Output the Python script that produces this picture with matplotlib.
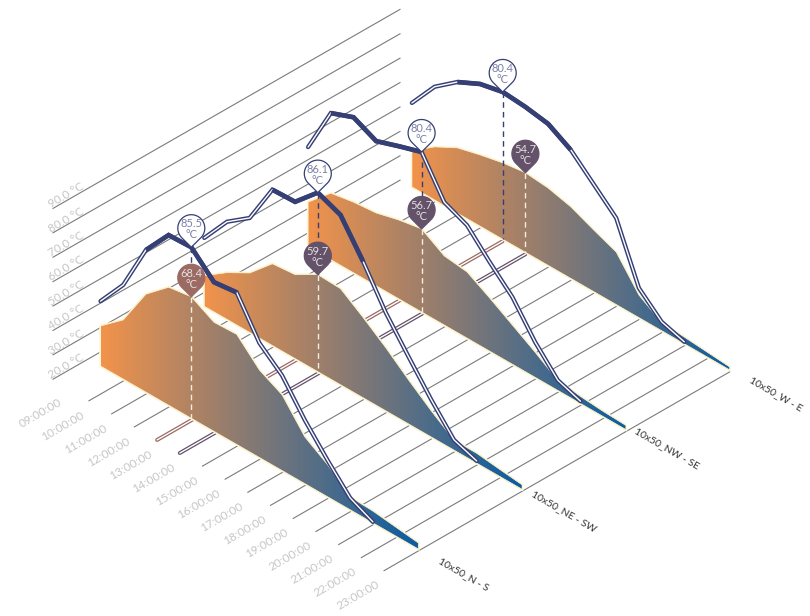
import matplotlib
matplotlib.use('Agg')
import matplotlib.pyplot as plt
from matplotlib.patches import Polygon
from matplotlib.colors import LinearSegmentedColormap
import numpy as np

plt.rcParams['font.family'] = ['Lato', 'DejaVu Sans']

hours = ['09:00:00', '10:00:00', '11:00:00', '12:00:00', '13:00:00', '14:00:00', '15:00:00', '16:00:00',
         '17:00:00', '18:00:00', '19:00:00', '20:00:00', '21:00:00', '22:00:00', '23:00:00']
series_names = ['10x50_N - S', '10x50_NE - SW', '10x50_NW - SE', '10x50_W - E']
temp_ticks = [20, 30, 40, 50, 60, 70, 80, 90]

# area = lower temperature, line = upper temperature
area_n_s = [42.8, 48.8, 61.0, 67.3, 68.4, 64.5, 64.8, 57.7, 54.0, 44.9, 40.3, 34.2, 33.9, 33.0, 32.1]
area_ne_sw = [39.8, 44.9, 48.9, 55.9, 56.6, 60.7, 60.4, 55.4, 50.0, 44.0, 38.4, 33.3, 33.3, 32.4, 31.6]
area_nw_se = [44.2, 51.1, 52.4, 53.1, 55.0, 56.3, 51.9, 51.0, 46.9, 42.5, 38.1, 33.3, 32.4, 31.8, 31.5]
area_w_e = [41.5, 46.9, 50.7, 52.6, 54.2, 55.2, 54.5, 52.7, 49.6, 46.7, 37.3, 32.7, 32.3, 31.7, 31.1]

line_n_s = [50.6, 59.8, 74.9, 83.7, 84.0, 77.1, 78.0, 66.2, 60.1, 50.2, 41.7, 33.9, 30.5]
line_ne_sw = [51.7, 60.9, 66.2, 79.2, 79.5, 86.5, 83.6, 73.0, 61.0, 51.3, 41.9, 33.4, 30.9]
line_nw_se = [61.5, 76.3, 79.1, 75.7, 78.2, 80.5, 68.8, 65.7, 58.2, 51.3, 41.3, 33.4, 30.9]
line_w_e = [56.6, 65.8, 71.4, 74.9, 76.5, 75.9, 74.7, 70.6, 64.0, 57.4, 39.5, 33.0, 30.8]

areas = [area_n_s, area_ne_sw, area_nw_se, area_w_e]
lines = [line_n_s, line_ne_sw, line_nw_se, line_w_e]

# hour index of the pins and their printed labels
line_peak_hour = [4, 5, 5, 4]
line_peak_label = ['85.5', '86.1', '80.4', '80.4']
area_peak_hour = [4, 5, 5, 5]
area_peak_label = ['68.4', '59.7', '56.7', '54.7']
# stretch of each line drawn solid
thick_from = [2, 3, 1, 2]
thick_to = [6, 7, 5, 7]

X0, Y0 = 100.5, 366.0
DX, DY = 22.7, 13.07
SX, SY = 103.8, -59.7
V0, K = 30.2, 3.18

NAVY = '#353f74'
BROWN = '#9a6a63'
PURPLE = '#64516a'
GREY = '#7b7b7b'
AXIS_TEXT = '#c6c6c6'
CREAM = '#fff6d2'


def project(hour, series, value):
    hour = np.asarray(hour, dtype=float)
    value = np.asarray(value, dtype=float)
    x = X0 + DX * hour + SX * series
    y = Y0 + DY * hour + SY * series - (value - V0) * K
    return x, y


def draw_pin(ax, x, y, text, face, edge, color, zorder):
    r, d = 13.5, 19.0
    a = np.arccos(r / d)
    theta = np.linspace(a, 2 * np.pi - a, 50)
    cy = y - d
    pts = np.column_stack([x + r * np.sin(theta), cy + r * np.cos(theta)])
    pts = np.vstack([[x, y], pts])
    ax.add_patch(Polygon(pts, closed=True, fc=face, ec=edge, lw=0.9, zorder=zorder))
    ax.text(x, cy - 4.5, text, ha='center', va='center', fontsize=8, color=color, zorder=zorder + 0.1)
    ax.text(x, cy + 6.5, '°C', ha='center', va='center', fontsize=8, color=color, zorder=zorder + 0.1)


fig = plt.figure(figsize=(8.1, 6.16), dpi=100)
ax = fig.add_axes([0, 0, 1, 1])

cmap = LinearSegmentedColormap.from_list('temp', ['#f2934b', '#0a5ca2'])

# temperature grid on the back wall
for t in temp_ticks:
    y_start = 428 - t * 2.44
    ax.plot([53, 400], [y_start, y_start - 199], color=GREY, lw=0.8, zorder=1)
    ax.text(66.5, y_start - 13, '%.1f °C' % t, rotation=30, rotation_mode='anchor', ha='center', va='center',
            fontsize=8.5, color=AXIS_TEXT)

# hour grid, the first hour has no line
for i, label in enumerate(hours):
    x1, y1 = project(i, -0.33, V0)
    x2, y2 = project(i, 3, V0)
    y1, y2 = y1 + 2, y2 + 2
    if i == 4 or i == 5:
        c = BROWN if i == 4 else PURPLE
        ax.plot([x1, x2], [y1, y2], color=c, lw=2.8, zorder=1, solid_capstyle='round')
        ax.plot([x1, x2], [y1, y2], color='white', lw=1.0, zorder=1.1, solid_capstyle='round')
    elif i > 0:
        ax.plot([x1, x2], [y1, y2], color=GREY, lw=0.8, zorder=1)
    ax.text(x1 - 26, y1 + 25, label, rotation=30, rotation_mode='anchor', ha='center', va='center',
            fontsize=8.5, color=AXIS_TEXT)

label_pos = [(464, 574), (564, 511), (667, 448), (776, 394)]
for j, name in enumerate(series_names):
    ax.text(label_pos[j][0], label_pos[j][1], name, rotation=-30, rotation_mode='anchor', ha='center',
            va='center', fontsize=7.5, color='#333333')

# back series first so the front ones cover them
for j in [3, 2, 1, 0]:
    z = 10 + (3 - j) * 10
    n = np.arange(len(areas[j]))
    ax_x, ax_y = project(n, j, areas[j])
    bx, by = project(n, j, V0)
    pts = np.vstack([np.column_stack([ax_x, ax_y]), np.column_stack([bx, by])[::-1]])
    # cream edge sits under the gradient so the thin end stays blue
    ax.add_patch(Polygon(pts, closed=True, fc='none', ec=CREAM, lw=1.8, zorder=z + 0.1))
    grad = np.linspace(0, 1, 256).reshape(1, -1)
    im = ax.imshow(grad, cmap=cmap, extent=[bx[0], bx[-1], by[-1], ax_y.min()], aspect='auto', zorder=z + 0.2)
    im.set_clip_path(Polygon(pts, closed=True, transform=ax.transData))
    # thin one on top hides the jagged clip
    ax.add_patch(Polygon(pts, closed=True, fc='none', ec=CREAM, lw=0.5, zorder=z + 0.25))

    # drop lines, the navy one stops at the lower pin when both share an hour
    h = line_peak_hour[j]
    h2 = area_peak_hour[j]
    lx, ly = project(h, j, lines[j][h])
    fx, fy = project(h2, j, areas[j][h2])
    _, ly0 = project(h, j, V0)
    _, fy0 = project(h2, j, V0)
    navy_end = fy if h == h2 else ly0
    ax.plot([lx, lx], [ly, navy_end], color=NAVY, lw=1.0, ls=(0, (4, 3)), zorder=z + 0.3)
    ax.plot([fx, fx], [fy, fy0], color='#f5eee0', lw=1.0, ls=(0, (4, 3)), zorder=z + 0.4)

    # line, double stroke then the solid stretch
    n2 = np.arange(len(lines[j]))
    px_x, px_y = project(n2, j, lines[j])
    ax.plot(px_x, px_y, color=NAVY, lw=3.1, zorder=z + 0.5, solid_capstyle='round', solid_joinstyle='miter')
    ax.plot(px_x, px_y, color='white', lw=1.0, zorder=z + 0.6, solid_capstyle='round', solid_joinstyle='miter')
    a, b = thick_from[j], thick_to[j] + 1
    ax.plot(px_x[a:b], px_y[a:b], color=NAVY, lw=3.4, zorder=z + 0.7, solid_capstyle='butt', solid_joinstyle='miter')

    pin_c = BROWN if j == 0 else PURPLE
    draw_pin(ax, fx, fy, area_peak_label[j], pin_c, pin_c, '#e6e0e0', z + 0.8)
    draw_pin(ax, lx, ly, line_peak_label[j], 'white', NAVY, '#7b80a6', z + 0.85)

ax.set_xlim(0, 810)
ax.set_ylim(616, 0)
ax.axis('off')

fig.savefig('out.png', dpi=100)
